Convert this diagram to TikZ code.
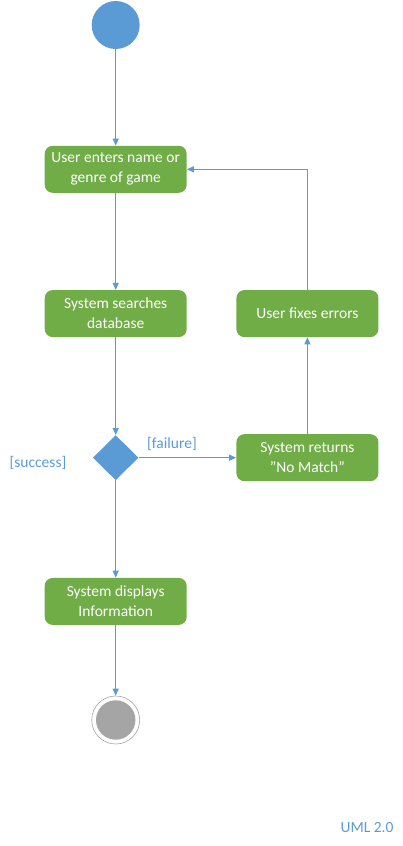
\documentclass[tikz,border=0pt]{standalone}
\usepackage{fontspec}
\setmainfont{Carlito}
\usetikzlibrary{arrows.meta,shapes.geometric}
\definecolor{umlgreen}{HTML}{70AD47}
\definecolor{umlblue}{HTML}{5B9BD5}
\definecolor{umlgray}{HTML}{A5A5A5}
\begin{document}
\begin{tikzpicture}[x=1pt,y=-1pt,
  act/.style={draw=none,fill=umlgreen,rounded corners=8pt,minimum width=142pt,minimum height=47pt,text=white,align=center,font=\fontsize{15.5}{20}\selectfont,inner sep=0pt},
  flow/.style={draw=umlblue,line width=1pt,-{Triangle[length=7pt,width=6pt]}},
  guard/.style={text=umlblue,font=\fontsize{15.5}{18}\selectfont,inner sep=0pt}]
\useasboundingbox (0,0) rectangle (403,846);
\node[circle,fill=umlblue,minimum size=48pt,inner sep=0pt] (start) at (115.7,25) {};
\node[act] (enter) at (115.7,169.3) {User enters name or\\genre of game};
\node[act] (search) at (115.7,313.6) {System searches\\database};
\node[act] (fix) at (307.4,313.6) {User fixes errors};
\node[diamond,fill=umlblue,minimum width=45.6pt,minimum height=45pt,inner sep=0pt] (dec) at (115.7,457.7) {};
\node[act] (nomatch) at (307.4,457.7) {System returns\\\symbol{34}No Match\symbol{34}};
\node[act] (display) at (115.7,601.4) {System displays\\Information};
\node[circle,draw=umlgray,line width=0.6pt,fill=white,minimum size=48pt,inner sep=0pt] (end) at (115.7,720) {};
\node[circle,fill=umlgray,minimum size=39.4pt,inner sep=0pt] (endin) at (115.7,720) {};
\node[guard] (fail) at (172,444) {[failure]};
\node[guard] (succ) at (38,462.7) {[success]};
\node[guard] (uml) at (367,827.7) {UML 2.0};
\draw[flow] (start) -- (enter);
\draw[flow] (enter) -- (search);
\draw[flow] (search) -- (dec.north);
\draw[flow] (dec.east) -- (nomatch);
\draw[flow] (nomatch) -- (fix);
\draw[flow] (fix.north) |- (enter.east);
\draw[flow] (dec.south) -- (display);
\draw[flow] (display) -- (end);
\end{tikzpicture}
\end{document}
